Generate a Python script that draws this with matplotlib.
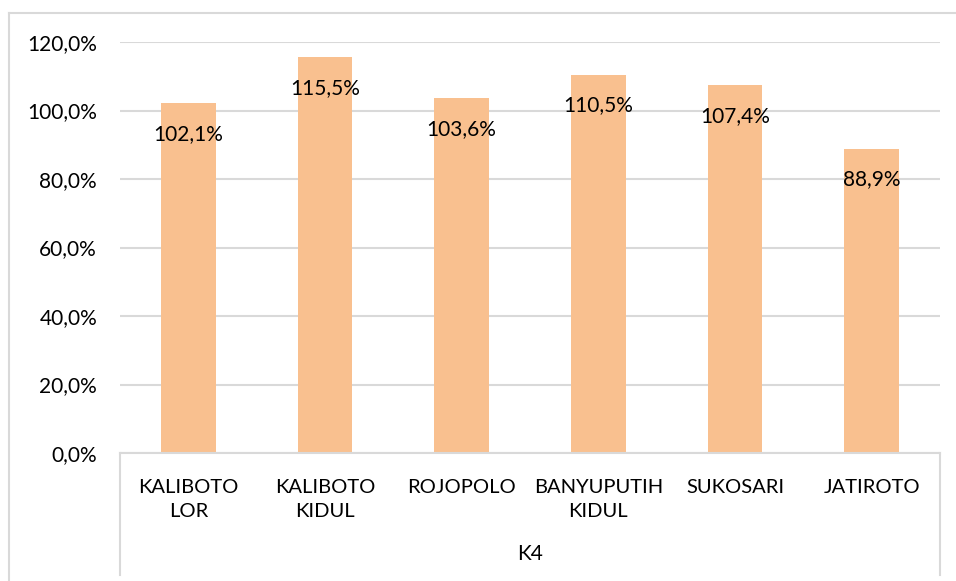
import matplotlib.pyplot as plt
from matplotlib.lines import Line2D

# data
categories = ["KALIBOTO\nLOR", "KALIBOTO\nKIDUL", "ROJOPOLO", "BANYUPUTIH\nKIDUL", "SUKOSARI", "JATIROTO"]
values = [102.1, 115.5, 103.6, 110.5, 107.4, 88.9]
group_label = "K4"
yticks = [0, 20, 40, 60, 80, 100, 120]

bar_color = '#F9C08F'
grid_color = '#D9D9D9'
W, H = 956, 581

plt.rcParams['font.family'] = ['Lato', 'DejaVu Sans']

fig = plt.figure(figsize=(W / 100, H / 100), dpi=100, facecolor='white')
ax = fig.add_axes([120 / W, (H - 453) / H, 820 / W, 411 / H])

x = range(len(categories))
ax.bar(x, values, width=0.4, color=bar_color, zorder=2)
ax.set_xlim(-0.5, len(categories) - 0.5)
ax.set_ylim(0, 120)

ax.set_yticks(yticks)
ax.set_yticklabels([f"{v:.1f}%".replace('.', ',') for v in yticks], fontsize=15)
ax.yaxis.grid(True, color=grid_color, linewidth=1.5, zorder=0)
ax.tick_params(axis='y', length=0, pad=16.5)
ax.set_xticks([])

for s in ['top', 'right', 'left']:
    ax.spines[s].set_visible(False)
ax.spines['bottom'].set_color(grid_color)
ax.spines['bottom'].set_linewidth(1.5)

# data labels, inside end
for i, v in enumerate(values):
    ax.annotate(f"{v:.1f}%".replace('.', ','), (i, v), xytext=(0, -22),
                textcoords='offset points', ha='center', va='center', fontsize=15)

# category labels (multi-level axis)
for i, c in enumerate(categories):
    ax.annotate(c, (i, 0), xytext=(0, -19), textcoords='offset points',
                ha='center', va='top', fontsize=14.5, linespacing=1.45)
ax.annotate(group_label, (0.5, 0), xycoords='axes fraction', xytext=(0, -73),
            textcoords='offset points', ha='center', va='center', fontsize=15)

# box lines of the category axis
drop = (575 - 453) / 411
for xa in [0, 1]:
    ax.add_line(Line2D([xa, xa], [0, -drop], transform=ax.transAxes, color=grid_color,
                       linewidth=1.5, clip_on=False))

# chart area border
fig.add_artist(Line2D([9 / W, 9 / W], [0, (H - 13) / H], color=grid_color, linewidth=1.5))
fig.add_artist(Line2D([9 / W, 1], [(H - 13) / H, (H - 13) / H], color=grid_color, linewidth=1.5))

fig.savefig('out.png', dpi=100, facecolor='white')
